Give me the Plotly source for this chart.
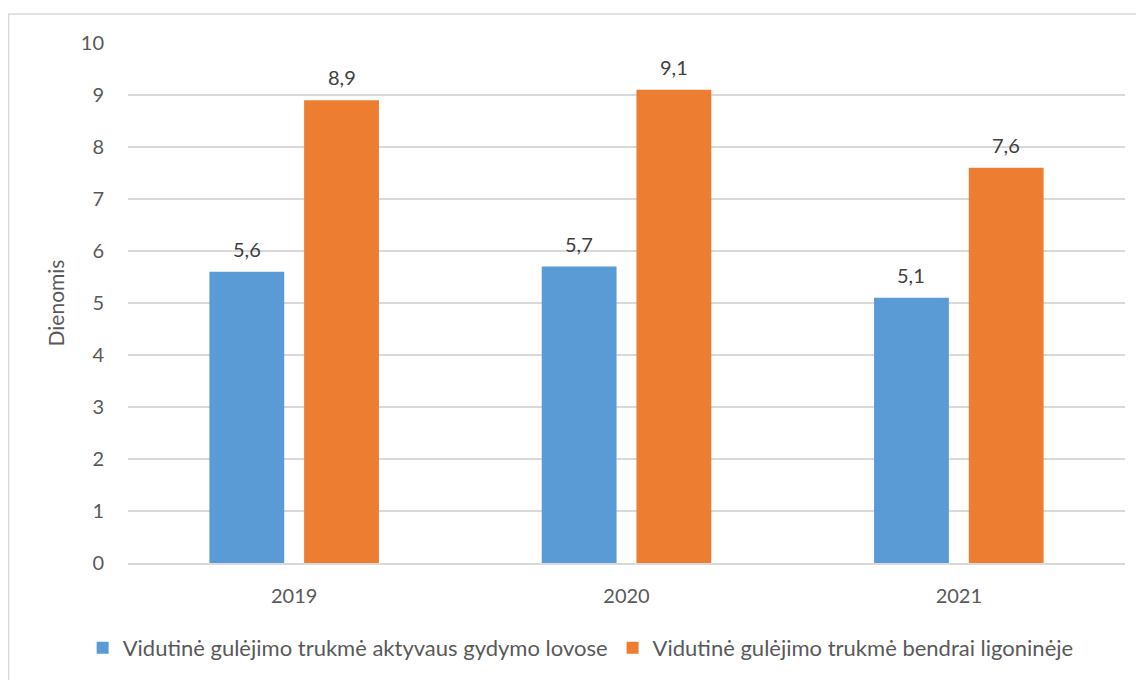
import plotly.graph_objects as go

years = ["2019", "2020", "2021"]
aktyvaus = [5.6, 5.7, 5.1]
bendrai = [8.9, 9.1, 7.6]
y_ticks = [0, 1, 2, 3, 4, 5, 6, 7, 8, 9, 10]

FONT = "Lato, Open Sans, sans-serif"
GREY = "#595959"
LABEL = "#404040"
BARGAP = 0.43

fig = go.Figure()
fig.add_trace(go.Bar(
    x=years, y=aktyvaus,
    name="Vidutinė gulėjimo trukmė aktyvaus gydymo lovose",
    marker=dict(color="#5B9BD5", line=dict(width=0)),
))
fig.add_trace(go.Bar(
    x=years, y=bendrai,
    name="Vidutinė gulėjimo trukmė bendrai ligoninėje",
    marker=dict(color="#ED7D31", line=dict(width=0)),
))

# data labels above each bar; on a category axis each group sits at its index,
# each bar slot is (1 - bargap) / 2 wide
slot = (1 - BARGAP) / 2
for vals, off in ((aktyvaus, -slot / 2), (bendrai, slot / 2)):
    for i, v in enumerate(vals):
        fig.add_annotation(x=i + off, y=v, text=f"{v:.1f}".replace(".", ","),
                           showarrow=False, yshift=9, yanchor="bottom",
                           font=dict(family=FONT, size=20, color=LABEL))

fig.update_layout(
    width=1136, height=672,
    barmode="group", bargap=BARGAP, bargroupgap=0.21,
    plot_bgcolor="white", paper_bgcolor="white",
    font=dict(family=FONT, color=GREY, size=20),
    margin=dict(l=120, r=19, t=35, b=116),
    showlegend=True,
    legend=dict(orientation="h", x=0.454, xanchor="center", y=-0.121, yanchor="top",
                font=dict(size=22, color=GREY), itemwidth=30, traceorder="normal"),
    shapes=[dict(type="rect", xref="paper", yref="paper",
                 x0=-0.1197, x1=1.05, y0=-0.3, y1=1.0557,
                 line=dict(color="#D9D9D9", width=1.5), layer="below")],
)
fig.update_xaxes(type="category", range=[-0.5, len(years) - 0.5], showgrid=False,
                 showline=True, linecolor="#D9D9D9", linewidth=1.5, ticks="",
                 ticklabelstandoff=14, tickfont=dict(size=20, color=GREY))
fig.update_yaxes(range=[0, 10], tickvals=y_ticks, showgrid=True, gridcolor="#D9D9D9",
                 gridwidth=1.5, zeroline=False, showline=False, ticks="",
                 ticklabelstandoff=23, tickfont=dict(size=20, color=GREY),
                 title=dict(text="Dienomis", font=dict(size=21, color=GREY), standoff=10))

fig.write_html("out.html")
